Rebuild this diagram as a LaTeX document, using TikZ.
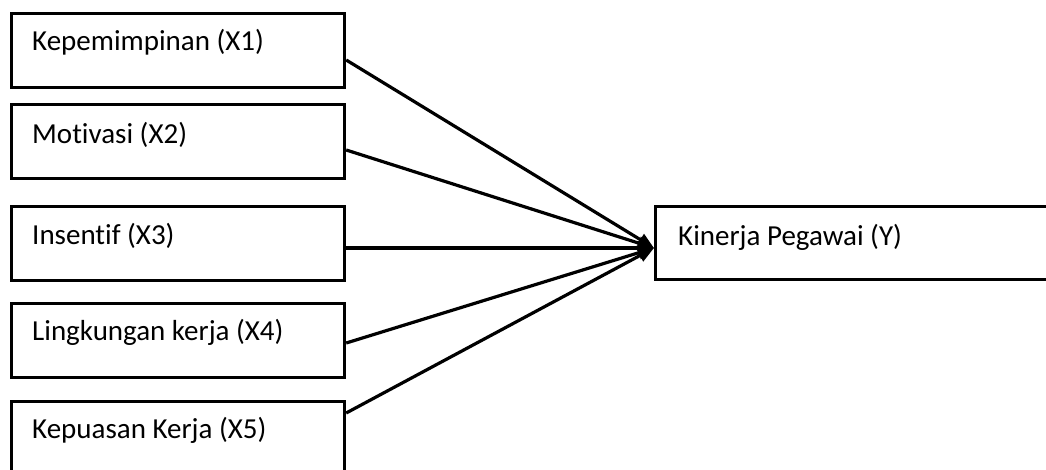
\documentclass[tikz,border=0pt]{standalone}
\usepackage{fontspec}
\setmainfont{Carlito}[Ligatures={NoCommon,NoRequired,NoContextual}]
\usetikzlibrary{arrows.meta}
\begin{document}
\begin{tikzpicture}[x=1pt,y=-1pt,
  box/.style={draw=black,line width=3.2pt,minimum width=333pt,minimum height=74pt,anchor=north west,inner sep=0pt},
  lbl/.style={anchor=base west,inner sep=0pt,font=\fontsize{29pt}{34pt}\selectfont},
  conn/.style={line width=3.2pt,-{Triangle[length=16pt,width=13pt]}}]
\clip (0,0) rectangle (1046,469);
\useasboundingbox (0,0) rectangle (1046,469);
\node[box] (b1) at (10,12) {};
\node[box] (b2) at (10,103) {};
\node[box] (b3) at (10,205) {};
\node[box] (b4) at (10,302) {};
\node[box,minimum height=120pt] (b5) at (10,400) {};
\node[box,minimum width=500pt,minimum height=73pt] (y) at (654,205) {};
\node[lbl] (t1) at ([xshift=22pt,yshift=-38pt]b1.north west) {Kepemimpinan (X1)};
\node[lbl] (t2) at ([xshift=22pt,yshift=-40pt]b2.north west) {Motivasi (X2)};
\node[lbl] (t3) at ([xshift=22pt,yshift=-39pt]b3.north west) {Insentif (X3)};
\node[lbl] (t4) at ([xshift=22pt,yshift=-38pt]b4.north west) {Lingkungan kerja (X4)};
\node[lbl] (t5) at ([xshift=22pt,yshift=-38pt]b5.north west) {Kepuasan Kerja (X5)};
\node[lbl] (ty) at ([xshift=24pt,yshift=-40pt]y.north west) {Kinerja Pegawai (Y)};
\coordinate (s1) at ([yshift=-48pt]b1.north east);
\coordinate (s2) at ([yshift=-47pt]b2.north east);
\coordinate (s3) at ([yshift=-43pt]b3.north east);
\coordinate (s4) at ([yshift=-41pt]b4.north east);
\coordinate (s5) at ([yshift=-13pt]b5.north east);
\coordinate (tip) at ([yshift=-43pt]y.north west);
\draw[conn] (s1) -- (tip);
\draw[conn] (s2) -- (tip);
\draw[conn] (s3) -- (tip);
\draw[conn] (s4) -- (tip);
\draw[conn] (s5) -- (tip);
\end{tikzpicture}
\end{document}
